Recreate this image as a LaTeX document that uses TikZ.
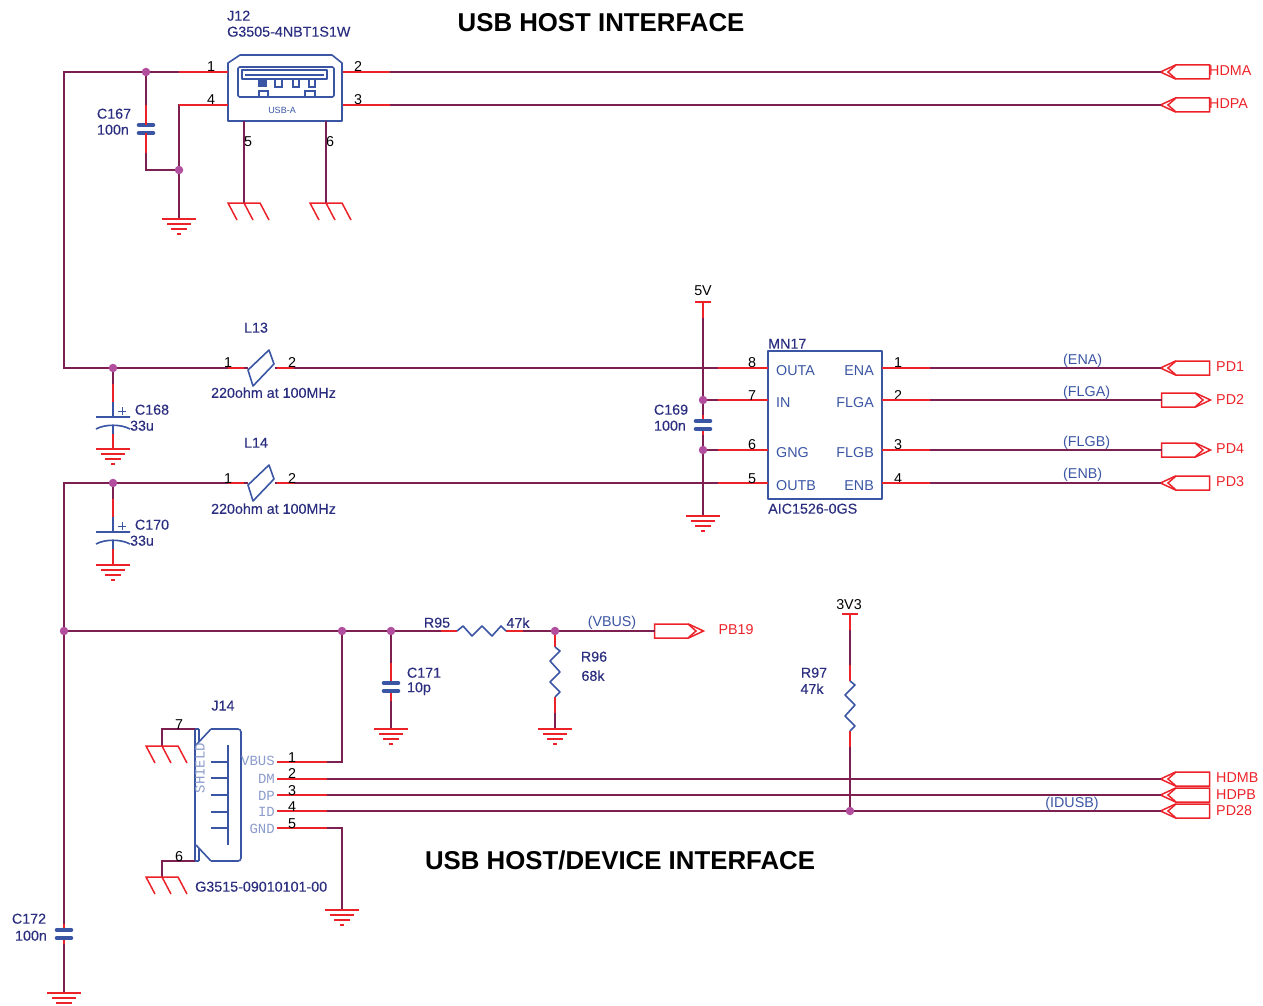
\documentclass[tikz,border=0pt]{standalone}
\usepackage{fontspec}
\setmainfont{Liberation Sans}
\newfontfamily\pinmono{Liberation Mono}
\newfontfamily\labfont[FakeBold=0.25]{Liberation Sans}
\usetikzlibrary{shapes.symbols,calc}
\definecolor{wirec}{HTML}{7D1F50}
\definecolor{pinc}{HTML}{EC2229}
\definecolor{bodyc}{HTML}{3A55A4}
\definecolor{navyc}{HTML}{2B2E7F}
\definecolor{dotc}{HTML}{B24E9E}
\definecolor{monoc}{HTML}{8C9CCB}
\newcommand{\sz}[1]{\fontsize{#1}{#1}\selectfont}
\tikzset{
  wire/.style={draw=wirec,line width=1.5pt},
  stub/.style={draw=pinc,line width=1.5pt},
  body/.style={draw=bodyc,line width=1.6pt,line join=round},
  jdot/.style={circle,fill=dotc,draw=none,minimum size=8.5pt,inner sep=0pt,outer sep=0pt},
  lab/.style={text=navyc,inner sep=0pt,yshift=-0.7pt,font=\labfont\sz{14.3}},
  pnum/.style={text=black,inner sep=0pt,yshift=-0.7pt,font=\sz{14.3}},
  inpin/.style={text=bodyc,inner sep=0pt,yshift=-0.7pt,font=\sz{14.3}},
  net/.style={text=bodyc,inner sep=0pt,yshift=-0.7pt,font=\sz{14.3}},
  portlab/.style={text=pinc,inner sep=0pt,yshift=-0.7pt,font=\sz{14.3}},
  monolab/.style={text=monoc,inner sep=0pt,font=\pinmono\sz{14}},
  title/.style={text=black,inner sep=0pt,yshift=-0.7pt,font=\bfseries\sz{25.8}},
  gndsym/.pic={
    \draw[stub] (-17,0) -- (17,0) (-12,5) -- (12,5) (-8,10) -- (8,10) (-2,15) -- (2,15);
  },
  chassis/.pic={
    \draw[stub] (0,0) -- (-16,0) -- (-7,17) (0,0) -- (9,17) (0,0) -- (16,0) -- (25,17);
  },
  npcap/.pic={
    \draw[bodyc,line width=4.6pt,line cap=round] (-7,0) -- (7,0) (-7,8) -- (7,8);
  },
  elcap/.pic={
    \draw[body] (-17,0) -- (17,0) (-17,12) .. controls (-8,7) and (8,7) .. (17,12);
    \draw[bodyc,line width=1pt] (5,-6) -- (13,-6) (9,-10) -- (9,-2);
  },
  ferrite/.pic={
    \draw[body] (-13,2) -- (8,-18) -- (13,-4) -- (-8,18) -- cycle;
  },
  portbox/.style={draw=pinc,line width=1.5pt,inner sep=0pt,outer sep=0pt,
    signal,minimum height=14pt,minimum width=49pt,signal pointer angle=50,signal from=nowhere},
}
\newcommand{\portL}[3]{%
  \node[portbox,signal to=west] (#1) at ({#2+31.5},#3) {};
  \draw[stub] ({#2+15},{#3-7}) -- ({#2+7},#3) -- ({#2+15},{#3+7});}
\newcommand{\portR}[3]{%
  \node[portbox,signal to=east] (#1) at ({#2+17.5},#3) {};
  \draw[stub] ({#2+34},{#3-7}) -- ({#2+42},#3) -- ({#2+34},{#3+7});}
\begin{document}
\begin{tikzpicture}[x=1pt,y=-1pt]
\useasboundingbox (0,0) rectangle (1263,1006);
% titles
\node[title] (t1) at (601,22) {USB HOST INTERFACE};
\node[title] (t2) at (620,860) {USB HOST/DEVICE INTERFACE};
% junctions
\node[jdot] (jtop) at (146,72) {};
\node[jdot] (jbot) at (179,170) {};
\node[jdot] (jl1) at (113,368) {};
\node[jdot] (jl2) at (113,483) {};
\node[jdot] (jv) at (64,631) {};
\node[jdot] (jp) at (342,631) {};
\node[jdot] (jc) at (391,631) {};
\node[jdot] (jr) at (555,631) {};
\node[jdot] (jfa) at (703,400) {};
\node[jdot] (jfb) at (703,450) {};
\node[jdot] (jid) at (850,811) {};
% ports
\portL{hdma}{1161}{72}
\portL{hdpa}{1161}{105}
\portL{pda}{1161}{368}
\portR{pdb}{1161}{400}
\portR{pdd}{1161}{450}
\portL{pdc}{1161}{483}
\portR{pbn}{654}{631}
\portL{hdmb}{1161}{779}
\portL{hdpb}{1161}{795}
\portL{pdt}{1161}{811}
% J12
\coordinate (a1) at (228,72); \coordinate (a4) at (228,105);
\coordinate (a2) at (343,72); \coordinate (a3) at (343,105);
\coordinate (a5) at (244,121); \coordinate (a6) at (326,121);
\draw[body] (228,63) -- (240,55) -- (332,55) -- (342,63) -- (342,121) -- (228,121) -- cycle;
\draw[body,rounded corners=1.5pt] (238,67) rectangle (334,97);
\draw[body] (242,70) -- (327,70) -- (327,79) -- (242,79) -- cycle;
\draw[bodyc,line width=2pt] (245,75) -- (324,75);
\fill[bodyc] (258,79) rectangle (267,87);
\draw[bodyc,line width=1.3pt] (275,79) rectangle (282,87) (293,79) rectangle (299,87) (309,79) rectangle (315,87);
\draw[bodyc,line width=1.3pt] (259,91) rectangle (268,97) (305,91) rectangle (315,97);
\node[text=bodyc,inner sep=0pt,font=\sz{9}] (usba) at (282,110.5) {USB-A};
\node[lab,anchor=west] (j12n) at (227,15) {J12};
\node[lab,anchor=west] (j12v) at (227,31) {G3505-4NBT1S1W};
\node[pnum] (n1) at (211,66) {1};
\node[pnum] (n4) at (211,99) {4};
\node[pnum] (n2) at (358,66) {2};
\node[pnum] (n3) at (358,99) {3};
\node[pnum] (n5) at (248,141) {5};
\node[pnum] (n6) at (330,141) {6};
% C167
\coordinate (c167a) at (146,125); \coordinate (c167b) at (146,133);
\pic at (c167a) {npcap};
\node[lab] (c167n) at (114,113) {C167};
\node[lab] (c167v) at (113,129) {100n};
\coordinate (gA) at (179,219); \coordinate (chA) at (244,203); \coordinate (chB) at (326,203);
\draw[wire] (a1) -- (jtop);
\draw[wire] (jtop) -- (c167a);
\draw[wire] (c167b) |- (jbot);
\draw[wire] (a4) -| (jbot);
\draw[wire] (jbot) -- (gA);
\draw[wire] (a5) -- (chA);
\draw[wire] (a6) -- (chB);
\draw[wire] (a2) -- (hdma.west);
\draw[wire] (a3) -- (hdpa.west);
\draw[stub] (a1) -- ++(-49,0);
\draw[stub] (a4) -- ++(-49,0);
\draw[stub] (a2) -- ++(47,0);
\draw[stub] (a3) -- ++(47,0);
\draw[stub] (c167a) -- ++(0,-20);
\draw[stub] (c167b) -- ++(0,20);
\pic at (gA) {gndsym}; \pic at (chA) {chassis}; \pic at (chB) {chassis};
% left rail
\draw[wire] (jtop) -- (64,72) -- (64,368) -- (jl1);
\draw[wire] (jl2) -- (64,483) -- (jv);
% L13
\coordinate (l13) at (261,368); \coordinate (l13a) at (248,368); \coordinate (l13b) at (275,368);
\coordinate (l14) at (261,483); \coordinate (l14a) at (248,483); \coordinate (l14b) at (275,483);
\coordinate (m8) at (768,368); \coordinate (m7) at (768,400); \coordinate (m6) at (768,450); \coordinate (m5) at (768,483);
\coordinate (m1) at (882,368); \coordinate (m2) at (882,400); \coordinate (m3) at (882,450); \coordinate (m4) at (882,483);
\draw[wire] (jl1) -- (l13a);
\draw[wire] (l13b) -- (m8);
\draw[wire] (jl2) -- (l14a);
\draw[wire] (l14b) -- (m5);
\draw[stub] (l13a) ++(-4,0) -- ++(-16,0);
\draw[stub] (l13b) ++(2,0) -- ++(17,0);
\draw[stub] (l14a) ++(-4,0) -- ++(-16,0);
\draw[stub] (l14b) ++(2,0) -- ++(17,0);
\pic at (l13) {ferrite}; \pic at (l14) {ferrite};
\node[lab] (l13n) at (256,327) {L13};
\node[lab] (l14n) at (256,442) {L14};
\node[lab] (l13v) at (273.5,392) {220ohm at 100MHz};
\node[lab] (l14v) at (273.5,508) {220ohm at 100MHz};
\node[pnum] (l1a) at (228,362) {1};
\node[pnum] (l1b) at (292,362) {2};
\node[pnum] (l2a) at (228,478) {1};
\node[pnum] (l2b) at (292,478) {2};
% C168, C170
\coordinate (c168a) at (113,417); \coordinate (c168b) at (113,425); \coordinate (g168) at (113,449);
\coordinate (c170a) at (113,532); \coordinate (c170b) at (113,540); \coordinate (g170) at (113,565);
\draw[wire] (jl1) -- (c168a);
\draw[wire] (c168b) -- (g168);
\draw[wire] (jl2) -- (c170a);
\draw[wire] (c170b) -- (g170);
\draw[stub] (c168a) ++(0,-33) -- ++(0,18);
\draw[body] (c168a) -- ++(0,-15);
\draw[stub] (g168) -- ++(0,-16);
\draw[body] (c168b) -- ++(0,9);
\draw[stub] (c170a) ++(0,-33) -- ++(0,18);
\draw[body] (c170a) -- ++(0,-15);
\draw[stub] (g170) -- ++(0,-16);
\draw[body] (c170b) -- ++(0,9);
\pic at (c168a) {elcap}; \pic at (c170a) {elcap};
\pic at (g168) {gndsym}; \pic at (g170) {gndsym};
\node[lab] (c168n) at (152,409) {C168};
\node[lab] (c168v) at (142,425) {33u};
\node[lab] (c170n) at (152,524) {C170};
\node[lab] (c170v) at (142,540) {33u};
% 5V rail and C169
\coordinate (p5v) at (703,302); \coordinate (g169) at (703,516);
\coordinate (c169a) at (703,421); \coordinate (c169b) at (703,429);
\draw[stub] (695,302) -- (711,302);
\node[pnum] (v5) at (703,290) {5V};
\draw[wire] (p5v) -- (jfa);
\draw[wire] (jfa) -- (c169a);
\draw[wire] (c169b) -- (jfb);
\draw[wire] (jfb) -- (g169);
\draw[stub] (p5v) -- ++(0,16);
\draw[stub] (c169a) -- ++(0,-6);
\draw[stub] (c169b) -- ++(0,6);
\pic at (c169a) {npcap};
\pic at (g169) {gndsym};
\node[lab] (c169n) at (671,409) {C169};
\node[lab] (c169v) at (670,425) {100n};
\draw[wire] (jfa) -- (m7);
\draw[wire] (jfb) -- (m6);
% MN17
\node[body,draw,rectangle,minimum width=114pt,minimum height=148pt,inner sep=0pt,outer sep=0pt,fill=white] (mn17) at (825,425) {};
\foreach \c in {m8,m7,m6,m5} {\draw[stub] (\c) -- ++(-50,0);}
\node[lab,anchor=west] (mn17n) at (768,343) {MN17};
\node[lab,anchor=west] (mn17v) at (768,508) {AIC1526-0GS};
\node[inpin,anchor=west] (ia) at (776,370) {OUTA};
\node[inpin,anchor=west] (ib) at (776,402) {IN};
\node[inpin,anchor=west] (ic) at (776,452) {GNG};
\node[inpin,anchor=west] (id) at (776,485) {OUTB};
\node[inpin,anchor=east] (ie) at (874,370) {ENA};
\node[inpin,anchor=east] (if) at (874,402) {FLGA};
\node[inpin,anchor=east] (ig) at (874,452) {FLGB};
\node[inpin,anchor=east] (ih) at (874,485) {ENB};
\node[pnum] (m8n) at (752,362) {8};
\node[pnum] (m7n) at (752,395) {7};
\node[pnum] (m6n) at (752,444) {6};
\node[pnum] (m5n) at (752,478) {5};
\node[pnum] (m1n) at (898,362) {1};
\node[pnum] (m2n) at (898,395) {2};
\node[pnum] (m3n) at (898,444) {3};
\node[pnum] (m4n) at (898,478) {4};
\draw[wire] (m1) -- (pda.west);
\draw[wire] (m2) -- (pdb.west);
\draw[wire] (m3) -- (pdd.west);
\draw[wire] (m4) -- (pdc.west);
\foreach \c in {m1,m2,m3,m4} {\draw[stub] (\c) -- ++(48,0);}
\node[net,anchor=west] (ena) at (1063,360) {(ENA)};
\node[net,anchor=west] (flga) at (1063,392) {(FLGA)};
\node[net,anchor=west] (flgb) at (1063,442) {(FLGB)};
\node[net,anchor=west] (enb) at (1063,474) {(ENB)};
\node[portlab,anchor=west] (lhdma) at (1209,70) {HDMA};
\node[portlab,anchor=west] (lhdpa) at (1209,103) {HDPA};
\node[portlab,anchor=west] (lpda) at (1216,366) {PD1};
\node[portlab,anchor=west] (lpdb) at (1216,399) {PD2};
\node[portlab,anchor=west] (lpdd) at (1216,448) {PD4};
\node[portlab,anchor=west] (lpdc) at (1216,481) {PD3};
% VBUS line
\coordinate (c172a) at (64,930); \coordinate (c172b) at (64,938); \coordinate (g172) at (64,993);
\draw[wire] (jv) -- (jp);
\draw[wire] (jp) -- (jc);
\coordinate (r95a) at (457,631); \coordinate (r95b) at (506,631);
\draw[wire] (jc) -- (r95a);
\draw[wire] (r95b) -- (jr);
\draw[wire] (jr) -- (pbn.west);
\draw[stub] (r95a) -- ++(-16,0);
\draw[stub] (r95b) -- ++(17,0);
\draw[body] (r95a) -- (463,626) -- (472,636) -- (482,626) -- (492,636) -- (501,626) -- (r95b);
\node[lab] (r95n) at (437,622) {R95};
\node[lab] (r95v) at (518,622) {47k};
\node[net] (vbus) at (612,622) {(VBUS)};
\node[portlab] (lpbn) at (736,629) {PB19};
% C172
\draw[wire] (jv) -- (c172a);
\draw[wire] (c172b) -- (g172);
\draw[stub] (c172a) -- ++(0,-6);
\draw[stub] (c172b) -- ++(0,6);
\pic at (c172a) {npcap}; \pic at (g172) {gndsym};
\node[lab] (c172n) at (29,918) {C172};
\node[lab] (c172v) at (31,935) {100n};
% C171
\coordinate (c171a) at (391,683); \coordinate (c171b) at (391,691); \coordinate (g171) at (391,729);
\draw[wire] (jc) -- (c171a);
\draw[wire] (c171b) -- (g171);
\draw[stub] (c171a) -- ++(0,-20);
\draw[stub] (c171b) -- ++(0,10);
\pic at (c171a) {npcap}; \pic at (g171) {gndsym};
\node[lab] (c171n) at (424,672) {C171};
\node[lab] (c171v) at (419,688) {10p};
% R96
\coordinate (r96a) at (555,647); \coordinate (r96b) at (555,697); \coordinate (g96) at (555,729);
\draw[stub] (jr) -- (r96a);
\draw[wire] (r96b) -- (g96);
\draw[stub] (r96b) -- ++(0,16);
\draw[body] (r96a) -- (560,651) -- (550,661) -- (560,672) -- (550,682) -- (560,692) -- (r96b);
\pic at (g96) {gndsym};
\node[lab] (r96n) at (594,656) {R96};
\node[lab] (r96v) at (593,675) {68k};
% R97
\coordinate (p33) at (850,614); \coordinate (r97a) at (850,681); \coordinate (r97b) at (850,731);
\draw[stub] (842,614) -- (858,614);
\node[pnum] (v33) at (849,604) {3V3};
\draw[wire] (p33) -- (r97a);
\draw[stub] (p33) -- ++(0,16);
\draw[stub] (r97a) -- ++(0,-16);
\draw[wire] (r97b) -- (jid);
\draw[stub] (r97b) -- ++(0,16);
\draw[body] (r97a) -- (855,685) -- (845,695) -- (855,705) -- (845,716) -- (855,726) -- (r97b);
\node[lab] (r97n) at (814,672) {R97};
\node[lab] (r97v) at (812,688) {47k};
% J14
\draw[body,rounded corners=3pt] (211,729) -- (241,729) -- (241,861) -- (211,861);
\draw[body] (211,729) -- (196,745) (196,845) -- (211,861);
\draw[body] (195,729) -- (195,861) (199,729) -- (199,741) (199,849) -- (199,861) (195,729) -- (199,729) (195,861) -- (199,861);
\draw[body] (228,745) -- (228,845);
\foreach \y in {762,778,795,812,828} {\draw[body] (211,\y) -- (228,\y);}
\node[monolab,rotate=90] (shield) at (200,768) {SHIELD};
\node[monolab,anchor=east] (mvbus) at (275,761) {VBUS};
\node[monolab,anchor=east] (mdm) at (275,779) {DM};
\node[monolab,anchor=east] (mdp) at (275,796) {DP};
\node[monolab,anchor=east] (mid) at (275,812) {ID};
\node[monolab,anchor=east] (mgnd) at (275,829) {GND};
\coordinate (j1) at (277,762); \coordinate (j2) at (277,779); \coordinate (j3) at (277,795);
\coordinate (j4) at (277,811); \coordinate (j5) at (277,828);
\coordinate (j6) at (195,861); \coordinate (j7) at (195,729);
\coordinate (g5) at (342,910); \coordinate (chC) at (162,746); \coordinate (chD) at (162,877);
\draw[wire] (j1) -| (jp);
\draw[wire] (j2) -- (hdmb.west);
\draw[wire] (j3) -- (hdpb.west);
\draw[wire] (j4) -- (jid);
\draw[wire] (jid) -- (pdt.west);
\draw[wire] (j5) -| (g5);
\draw[wire] (j7) -| (chC);
\draw[wire] (j6) -| (chD);
\foreach \c in {j1,j2,j3,j4,j5} {\draw[stub] (\c) -- ++(50,0);}
\pic at (g5) {gndsym}; \pic at (chC) {chassis}; \pic at (chD) {chassis};
\node[pnum] (jn1) at (292,757) {1};
\node[pnum] (jn2) at (292,773) {2};
\node[pnum] (jn3) at (292,790) {3};
\node[pnum] (jn4) at (292,806) {4};
\node[pnum] (jn5) at (292,823) {5};
\node[pnum] (jn7) at (179,724) {7};
\node[pnum] (jn6) at (179,856) {6};
\node[lab] (j14n) at (223,705) {J14};
\node[lab,anchor=west] (j14v) at (195,886) {G3515-09010101-00};
\node[net] (idusb) at (1072,803) {(IDUSB)};
\node[portlab,anchor=west] (lhdmb) at (1216,777) {HDMB};
\node[portlab,anchor=west] (lhdpb) at (1216,794) {HDPB};
\node[portlab,anchor=west] (lpdt) at (1216,810) {PD28};
\end{tikzpicture}
\end{document}
